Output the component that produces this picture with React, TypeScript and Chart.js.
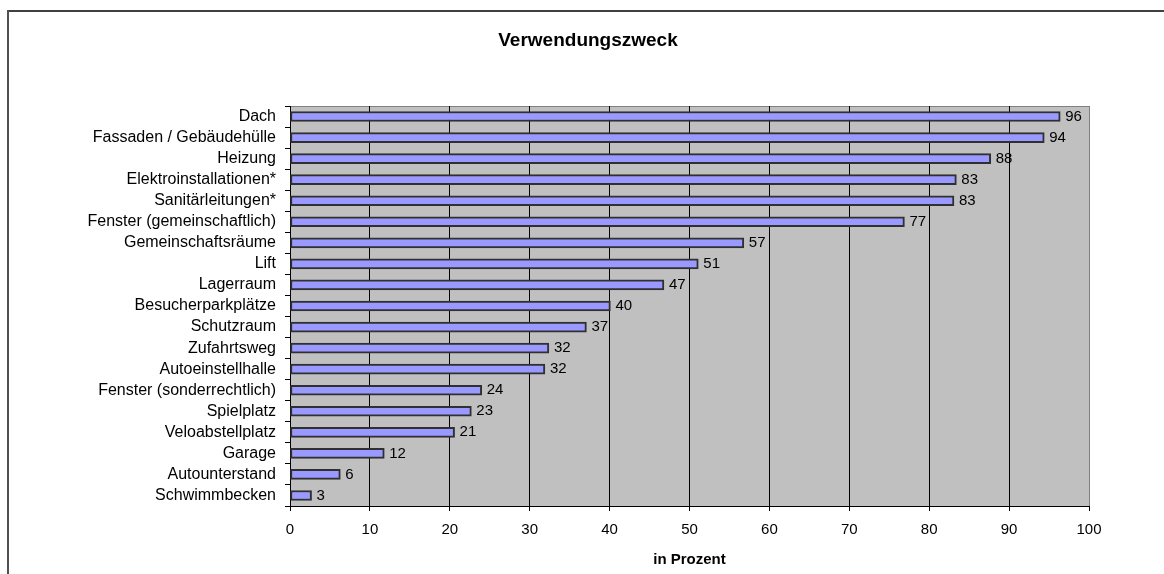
import React, { useEffect, useRef } from "react";
import { Chart, registerables } from "chart.js";

Chart.register(...registerables);

const categories: string[] = [
  "Dach",
  "Fassaden / Gebäudehülle",
  "Heizung",
  "Elektroinstallationen*",
  "Sanitärleitungen*",
  "Fenster (gemeinschaftlich)",
  "Gemeinschaftsräume",
  "Lift",
  "Lagerraum",
  "Besucherparkplätze",
  "Schutzraum",
  "Zufahrtsweg",
  "Autoeinstellhalle",
  "Fenster (sonderrechtlich)",
  "Spielplatz",
  "Veloabstellplatz",
  "Garage",
  "Autounterstand",
  "Schwimmbecken",
];

const values: number[] = [
  96.4, 94.4, 87.7, 83.4, 83.1, 76.9, 56.8, 51.1, 46.8, 40.1, 37.1, 32.4, 31.9,
  24.0, 22.7, 20.6, 11.8, 6.3, 2.7,
];

const valueLabels: string[] = [
  "96", "94", "88", "83", "83", "77", "57", "51", "47", "40", "37", "32", "32",
  "24", "23", "21", "12", "6", "3",
];

const xTicks: number[] = [0, 10, 20, 30, 40, 50, 60, 70, 80, 90, 100];

const chartTitle = "Verwendungszweck";
const xTitle = "in Prozent";

const FONT = "Arial, 'Liberation Sans', sans-serif";

export default function App() {
  const ref = useRef<HTMLCanvasElement | null>(null);

  useEffect(() => {
    if (!ref.current) return;

    const decor = {
      id: "decor",
      beforeDraw(chart: any) {
        const { ctx, chartArea } = chart;
        ctx.save();
        ctx.fillStyle = "#ffffff";
        ctx.fillRect(0, 0, chart.width, chart.height);
        // outer frame
        ctx.fillStyle = "#404040";
        ctx.fillRect(7, 10, chart.width, 2);
        ctx.fillStyle = "#505050";
        ctx.fillRect(7, 10, 2, chart.height);
        // plot background
        ctx.fillStyle = "#C0C0C0";
        ctx.fillRect(
          chartArea.left,
          chartArea.top,
          chartArea.right - chartArea.left,
          chartArea.bottom - chartArea.top
        );
        ctx.strokeStyle = "#808080";
        ctx.lineWidth = 1;
        ctx.beginPath();
        ctx.moveTo(chartArea.left, Math.round(chartArea.top) + 0.5);
        ctx.lineTo(chartArea.right, Math.round(chartArea.top) + 0.5);
        ctx.stroke();
        ctx.restore();
      },
      afterDatasetsDraw(chart: any) {
        const { ctx } = chart;
        const meta = chart.getDatasetMeta(0);
        ctx.save();
        ctx.fillStyle = "#000";
        ctx.font = `15px ${FONT}`;
        ctx.textAlign = "left";
        ctx.textBaseline = "middle";
        meta.data.forEach((bar: any, i: number) => {
          ctx.fillText(valueLabels[i], bar.x + 5, bar.y);
        });
        ctx.restore();
      },
      afterDraw(chart: any) {
        const { ctx } = chart;
        ctx.save();
        ctx.fillStyle = "#000";
        ctx.font = `bold 19px ${FONT}`;
        ctx.textAlign = "center";
        ctx.textBaseline = "middle";
        ctx.fillText(chartTitle, 588, 41);
        ctx.restore();
      },
    };

    const chart = new Chart(ref.current, {
      type: "bar",
      data: {
        labels: categories,
        datasets: [
          {
            data: values,
            backgroundColor: "#9999FF",
            borderColor: "#303030",
            borderWidth: 2,
            borderSkipped: false,
            barThickness: 10,
          },
        ],
      },
      options: {
        indexAxis: "y",
        animation: false,
        responsive: false,
        devicePixelRatio: 1,
        layout: { padding: { top: 106, right: 75, bottom: 0, left: 0 } },
        plugins: {
          legend: { display: false },
          title: { display: false },
          tooltip: { enabled: false },
        },
        scales: {
          x: {
            type: "linear",
            min: 0,
            max: 100,
            afterBuildTicks(scale: any) {
              scale.ticks = xTicks.map((v) => ({ value: v }));
            },
            afterFit(scale: any) {
              scale.height = 68;
            },
            grid: {
              color: (c: any) => (c.tick && c.tick.value === 100 ? "#808080" : "#000000"),
              tickColor: "#000000",
              tickLength: 5,
              drawTicks: true,
              lineWidth: 1,
            },
            border: { color: "#000000", width: 1 },
            ticks: {
              color: "#000",
              font: { family: FONT, size: 15 },
              padding: 10,
              maxRotation: 0,
            },
            title: {
              display: true,
              text: xTitle,
              color: "#000",
              font: { family: FONT, size: 15, weight: "bold" },
              padding: { top: 0, bottom: 5 },
            },
          },
          y: {
            type: "category",
            afterFit(scale: any) {
              scale.width = 290;
            },
            grid: {
              drawOnChartArea: false,
              drawTicks: true,
              tickLength: 5,
              tickColor: "#000000",
              offset: true,
            },
            border: { color: "#000000", width: 1 },
            ticks: {
              color: "#000",
              font: { family: FONT, size: 16 },
              padding: 9,
              autoSkip: false,
            },
          },
        },
      },
      plugins: [decor],
    } as any);

    return () => chart.destroy();
  }, []);

  return (
    <div style={{ position: "fixed", left: 0, top: 0, width: 1164, height: 574, background: "#fff" }}>
      <canvas ref={ref} width={1164} height={574} style={{ display: "block" }} />
    </div>
  );
}
